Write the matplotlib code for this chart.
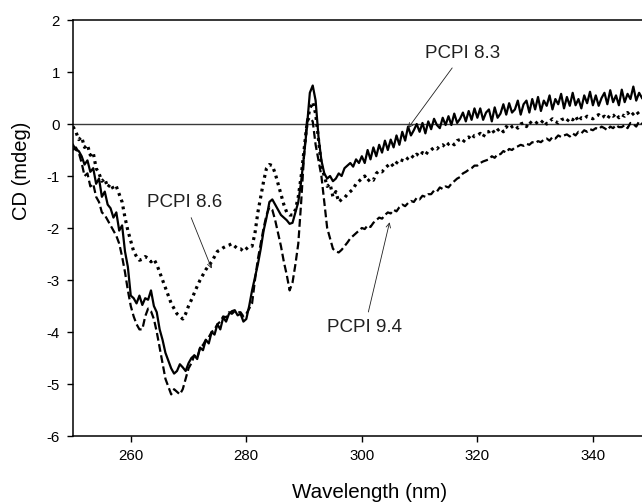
import numpy as np
import matplotlib
matplotlib.use("Agg")
import matplotlib.pyplot as plt

plt.rcParams['font.family'] = ['Liberation Sans', 'DejaVu Sans']
plt.rcParams['axes.unicode_minus'] = False

# wavelength grid (nm), 0.5 nm steps from 250 to 348.5
wavelength = np.arange(250.0, 348.6, 0.5)

# PCPI 8.3 (solid)
cd_pcpi_83 = [
    -0.40, -0.50, -0.52, -0.62, -0.78, -0.70, -0.92, -0.85, -1.15, -1.05,
    -1.40, -1.30, -1.55, -1.62, -1.80, -1.70, -2.05, -1.95, -2.45, -2.75,
    -3.30, -3.35, -3.45, -3.30, -3.48, -3.35, -3.38, -3.20, -3.50, -3.62,
    -3.95, -4.15, -4.40, -4.55, -4.70, -4.80, -4.75, -4.62, -4.68, -4.75,
    -4.60, -4.50, -4.45, -4.52, -4.30, -4.35, -4.15, -4.22, -4.00, -4.05,
    -3.85, -3.95, -3.72, -3.80, -3.65, -3.60, -3.58, -3.68, -3.65, -3.80,
    -3.75, -3.50, -3.20, -2.95, -2.70, -2.40, -2.05, -1.80, -1.50, -1.45,
    -1.55, -1.65, -1.75, -1.80, -1.85, -1.92, -1.90, -1.70, -1.50, -1.10,
    -0.60, -0.05, 0.60, 0.74, 0.45, -0.25, -0.70, -0.95, -1.05, -1.00,
    -1.10, -1.05, -0.95, -1.00, -0.85, -0.80, -0.75, -0.82, -0.68, -0.75,
    -0.62, -0.75, -0.50, -0.68, -0.45, -0.62, -0.40, -0.55, -0.32, -0.50,
    -0.30, -0.45, -0.22, -0.40, -0.15, -0.32, -0.05, -0.22, -0.12, 0.00,
    -0.15, 0.02, -0.18, 0.05, -0.10, 0.10, -0.02, -0.08, 0.12, -0.02,
    0.15, -0.02, 0.20, 0.02, 0.10, 0.22, 0.05, 0.25, 0.08, 0.30,
    0.12, 0.30, 0.08, 0.22, 0.28, 0.05, 0.32, 0.12, 0.20, 0.38,
    0.18, 0.40, 0.22, 0.28, 0.45, 0.18, 0.38, 0.45, 0.22, 0.48,
    0.28, 0.52, 0.25, 0.45, 0.35, 0.55, 0.28, 0.48, 0.38, 0.58,
    0.30, 0.52, 0.35, 0.60, 0.36, 0.48, 0.30, 0.55, 0.40, 0.62,
    0.36, 0.55, 0.35, 0.50, 0.60, 0.38, 0.65, 0.42, 0.55, 0.36,
    0.66, 0.42, 0.58, 0.48, 0.72, 0.45, 0.60, 0.50,
]

# PCPI 8.6 (dotted)
cd_pcpi_86 = [
    -0.05, -0.15, -0.30, -0.25, -0.45, -0.40, -0.60, -0.55, -0.85, -0.95,
    -1.10, -1.05, -1.22, -1.15, -1.25, -1.20, -1.35, -1.50, -1.80, -2.05,
    -2.25, -2.45, -2.55, -2.62, -2.60, -2.55, -2.58, -2.65, -2.60, -2.70,
    -2.85, -3.00, -3.15, -3.30, -3.45, -3.55, -3.65, -3.70, -3.75, -3.65,
    -3.50, -3.38, -3.25, -3.12, -3.00, -2.90, -2.80, -2.72, -2.65, -2.55,
    -2.45, -2.42, -2.38, -2.35, -2.33, -2.30, -2.35, -2.40, -2.40, -2.45,
    -2.40, -2.35, -2.35, -2.10, -1.70, -1.40, -1.10, -0.85, -0.78, -0.80,
    -0.95, -1.15, -1.35, -1.55, -1.70, -1.75, -1.75, -1.65, -1.40, -1.00,
    -0.50, 0.00, 0.30, 0.42, 0.20, -0.30, -0.80, -1.00, -1.20, -1.15,
    -1.40, -1.30, -1.50, -1.45, -1.42, -1.35, -1.30, -1.25, -1.15, -1.10,
    -1.05, -1.00, -1.10, -1.05, -1.08, -0.95, -0.90, -0.92, -0.85, -0.80,
    -0.75, -0.82, -0.75, -0.68, -0.70, -0.72, -0.65, -0.60, -0.65, -0.58,
    -0.62, -0.55, -0.60, -0.52, -0.50, -0.45, -0.48, -0.42, -0.40, -0.45,
    -0.38, -0.35, -0.40, -0.32, -0.30, -0.35, -0.28, -0.25, -0.30, -0.22,
    -0.22, -0.18, -0.25, -0.15, -0.15, -0.10, -0.18, -0.12, -0.08, -0.15,
    -0.05, -0.10, -0.05, -0.02, -0.08, 0.00, 0.02, -0.05, 0.05, 0.00,
    0.00, 0.05, 0.02, 0.08, 0.00, 0.05, 0.10, 0.05, 0.02, 0.08,
    0.10, 0.05, 0.12, 0.08, 0.15, 0.05, 0.12, 0.10, 0.15, 0.12,
    0.10, 0.15, 0.18, 0.12, 0.15, 0.10, 0.18, 0.15, 0.20, 0.12,
    0.18, 0.15, 0.22, 0.15, 0.20, 0.25, 0.18, 0.20,
]

# PCPI 9.4 (dashed)
cd_pcpi_94 = [
    -0.50, -0.45, -0.55, -0.75, -1.00, -0.95, -1.20, -1.15, -1.40, -1.50,
    -1.70, -1.75, -1.85, -1.95, -2.05, -2.15, -2.30, -2.55, -2.85, -3.20,
    -3.50, -3.70, -3.85, -3.95, -3.95, -3.70, -3.55, -3.60, -3.75, -4.00,
    -4.30, -4.60, -4.90, -5.05, -5.20, -5.10, -5.15, -5.20, -5.10, -4.90,
    -4.70, -4.60, -4.45, -4.50, -4.30, -4.25, -4.15, -4.10, -4.00, -3.95,
    -3.85, -3.80, -3.70, -3.72, -3.62, -3.65, -3.60, -3.62, -3.62, -3.70,
    -3.65, -3.55, -3.45, -3.00, -2.60, -2.30, -2.00, -1.75, -1.60, -1.65,
    -1.85, -2.10, -2.35, -2.65, -2.90, -3.20, -3.05, -2.70, -2.30, -1.50,
    -0.60, 0.05, 0.12, 0.05, -0.40, -0.70, -1.00, -1.50, -2.00, -2.20,
    -2.40, -2.45, -2.47, -2.42, -2.35, -2.28, -2.20, -2.15, -2.10, -2.05,
    -2.00, -2.02, -1.95, -1.98, -1.90, -1.85, -1.80, -1.82, -1.75, -1.70,
    -1.72, -1.65, -1.68, -1.60, -1.55, -1.58, -1.52, -1.48, -1.50, -1.42,
    -1.45, -1.38, -1.40, -1.35, -1.35, -1.28, -1.30, -1.22, -1.25, -1.20,
    -1.22, -1.15, -1.10, -1.05, -1.02, -0.95, -0.92, -0.88, -0.85, -0.80,
    -0.80, -0.75, -0.72, -0.70, -0.68, -0.62, -0.65, -0.58, -0.58, -0.52,
    -0.55, -0.48, -0.50, -0.45, -0.43, -0.40, -0.42, -0.38, -0.40, -0.35,
    -0.37, -0.33, -0.35, -0.30, -0.28, -0.32, -0.25, -0.28, -0.22, -0.25,
    -0.22, -0.20, -0.24, -0.18, -0.22, -0.15, -0.18, -0.12, -0.15, -0.10,
    -0.12, -0.08, -0.10, -0.05, -0.08, -0.12, -0.05, -0.08, -0.02, -0.06,
    -0.06, -0.02, -0.08, 0.02, 0.00, -0.05, 0.05, 0.00,
]

x_ticks = [260, 280, 300, 320, 340]
y_ticks = [-6, -5, -4, -3, -2, -1, 0, 1, 2]

labels = ["PCPI 8.3", "PCPI 8.6", "PCPI 9.4"]
label_text_pos = [(317.5, 1.36), (269.4, -1.51), (300.5, -3.91)]
label_arrow_tip = [(308.0, -0.08), (274.0, -2.78), (304.8, -1.89)]

fig = plt.figure(figsize=(6.42, 5.04), dpi=100)
ax = fig.add_axes([73 / 642, 68 / 504, 569 / 642, 416 / 504])

ax.axhline(0, color='#3a3a3a', lw=1.0, zorder=1)

ax.plot(wavelength, cd_pcpi_83, color='black', lw=1.6, ls='-', zorder=3)
ax.plot(wavelength, cd_pcpi_86, color='black', lw=2.3, ls=(0, (0.9, 1.3)), zorder=3)
ax.plot(wavelength, cd_pcpi_94, color='black', lw=1.6, ls=(0, (3.5, 1.6)), zorder=3)

for txt, tpos, tip in zip(labels, label_text_pos, label_arrow_tip):
    ax.annotate(txt, xy=tip, xytext=tpos, ha='center', va='center',
                fontsize=13.5, color='#202020',
                arrowprops=dict(arrowstyle='->', lw=0.6, color='#202020',
                                mutation_scale=8, shrinkA=3, shrinkB=0))

ax.set_xlim(250, 348.5)
ax.set_ylim(-6, 2)
ax.set_xticks(x_ticks)
ax.set_yticks(y_ticks)
ax.set_xticklabels([str(v) for v in x_ticks])
ax.set_yticklabels([str(v) for v in y_ticks])
ax.tick_params(direction='out', length=4.5, width=1, labelsize=10.8, pad=5)

ax.spines['right'].set_visible(False)
for s in ['left', 'bottom', 'top']:
    ax.spines[s].set_linewidth(1.1)

ax.set_xlabel('Wavelength (nm)', fontsize=14.8, va='center')
ax.xaxis.set_label_coords((369.5 - 73) / 569, (436 - 493) / 416)
ax.set_ylabel('CD (mdeg)', fontsize=14.5, va='center')
ax.yaxis.set_label_coords((22 - 73) / 569, (436 - 171) / 416)

fig.savefig('out.png', dpi=100)
